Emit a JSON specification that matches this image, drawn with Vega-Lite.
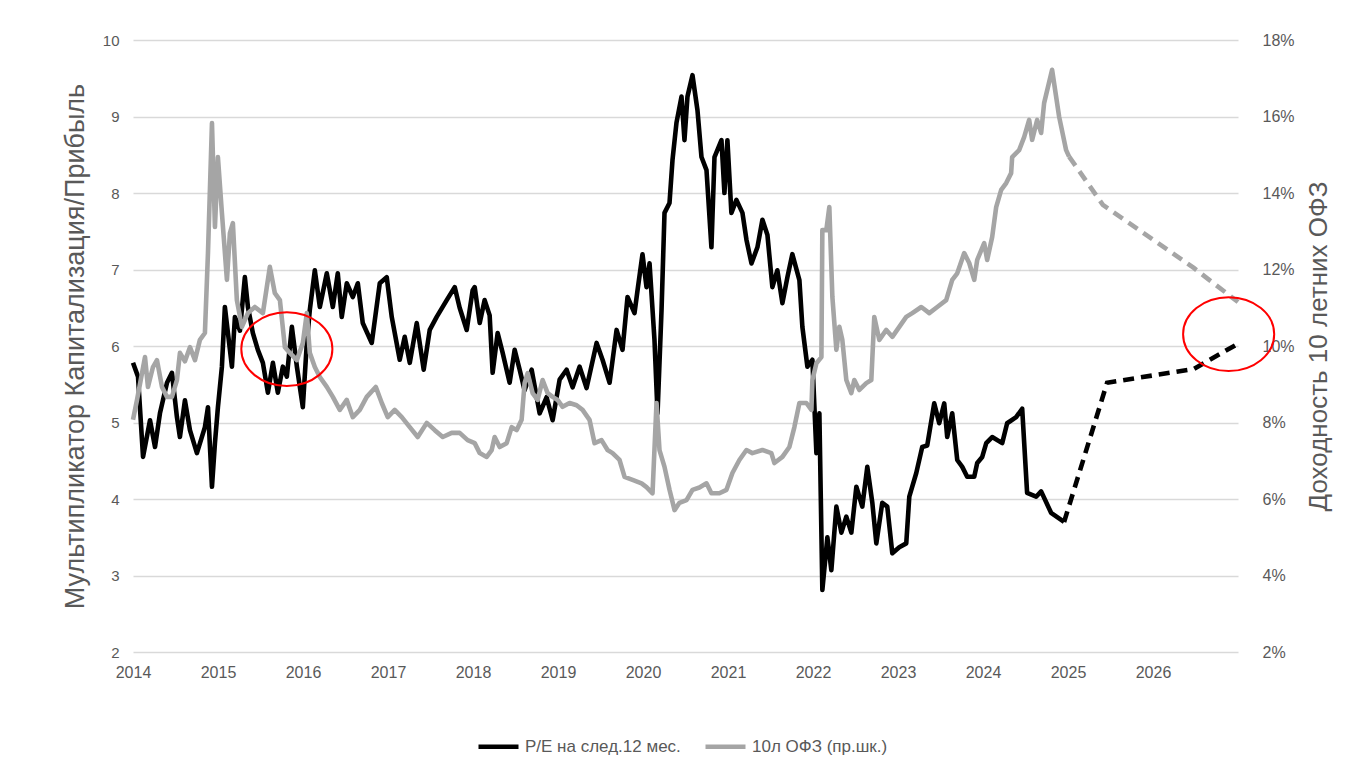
{
  "$schema": "https://vega.github.io/schema/vega-lite/v6.json",
  "width": 1105,
  "height": 612,
  "autosize": {"type": "none"},
  "padding": {"left": 133, "top": 40, "right": 115, "bottom": 123},
  "background": "#ffffff",
  "config": {
    "view": {"stroke": null},
    "font": "Liberation Sans",
    "axis": {"labelColor": "#595959", "titleColor": "#595959", "labelFont": "Liberation Sans", "titleFont": "Liberation Sans", "titleFontWeight": "normal"},
    "legend": {"labelColor": "#595959", "labelFont": "Liberation Sans"}
  },
  "datasets": {
    "peA": [
      {"t":2014.000,"v":5.78},{"t":2014.059,"v":5.60},{"t":2014.118,"v":4.55},{"t":2014.200,"v":5.03},{"t":2014.259,"v":4.68},
      {"t":2014.317,"v":5.12},{"t":2014.400,"v":5.52},{"t":2014.458,"v":5.65},{"t":2014.517,"v":5.07},{"t":2014.552,"v":4.81},
      {"t":2014.611,"v":5.29},{"t":2014.670,"v":4.90},{"t":2014.752,"v":4.60},{"t":2014.846,"v":4.94},{"t":2014.882,"v":5.20},
      {"t":2014.929,"v":4.16},{"t":2014.964,"v":4.73},{"t":2014.999,"v":5.20},{"t":2015.046,"v":5.73},{"t":2015.081,"v":6.51},
      {"t":2015.117,"v":6.17},{"t":2015.164,"v":5.73},{"t":2015.199,"v":6.38},{"t":2015.258,"v":6.20},{"t":2015.316,"v":6.90},
      {"t":2015.352,"v":6.51},{"t":2015.410,"v":6.17},{"t":2015.469,"v":5.95},{"t":2015.528,"v":5.78},{"t":2015.587,"v":5.39},
      {"t":2015.646,"v":5.78},{"t":2015.704,"v":5.39},{"t":2015.763,"v":5.73},{"t":2015.810,"v":5.60},{"t":2015.869,"v":6.25},
      {"t":2015.928,"v":5.73},{"t":2015.998,"v":5.20},{"t":2016.045,"v":6.04},{"t":2016.080,"v":6.47},{"t":2016.139,"v":6.99},
      {"t":2016.198,"v":6.51},{"t":2016.280,"v":6.95},{"t":2016.351,"v":6.51},{"t":2016.409,"v":6.95},{"t":2016.456,"v":6.38},
      {"t":2016.515,"v":6.82},{"t":2016.586,"v":6.64},{"t":2016.645,"v":6.82},{"t":2016.703,"v":6.30},{"t":2016.809,"v":6.04},
      {"t":2016.903,"v":6.82},{"t":2016.985,"v":6.90},{"t":2017.044,"v":6.38},{"t":2017.138,"v":5.82},{"t":2017.197,"v":6.12},
      {"t":2017.256,"v":5.78},{"t":2017.338,"v":6.30},{"t":2017.420,"v":5.69},{"t":2017.491,"v":6.21},{"t":2017.573,"v":6.38},
      {"t":2017.691,"v":6.60},{"t":2017.785,"v":6.77},{"t":2017.843,"v":6.50},{"t":2017.926,"v":6.21},{"t":2017.996,"v":6.73},
      {"t":2018.020,"v":6.77},{"t":2018.079,"v":6.30},{"t":2018.137,"v":6.60},{"t":2018.196,"v":6.40},{"t":2018.231,"v":5.65},
      {"t":2018.290,"v":6.17},{"t":2018.349,"v":5.91},{"t":2018.431,"v":5.52},{"t":2018.490,"v":5.95},{"t":2018.549,"v":5.69},
      {"t":2018.607,"v":5.42},{"t":2018.690,"v":5.69},{"t":2018.784,"v":5.12},{"t":2018.866,"v":5.33},{"t":2018.937,"v":5.03},
      {"t":2019.019,"v":5.56},{"t":2019.101,"v":5.69},{"t":2019.172,"v":5.46},{"t":2019.254,"v":5.73},{"t":2019.336,"v":5.45},
      {"t":2019.454,"v":6.04},{"t":2019.524,"v":5.82},{"t":2019.607,"v":5.52},{"t":2019.689,"v":6.21},{"t":2019.759,"v":5.95},
      {"t":2019.818,"v":6.64},{"t":2019.900,"v":6.43},{"t":2019.936,"v":6.73},{"t":2019.994,"v":7.20},{"t":2020.041,"v":6.77},
      {"t":2020.077,"v":7.08},{"t":2020.135,"v":6.08},{"t":2020.171,"v":5.12},{"t":2020.218,"v":6.47},{"t":2020.253,"v":7.74},
      {"t":2020.312,"v":7.87},{"t":2020.347,"v":8.43},{"t":2020.394,"v":8.92},{"t":2020.453,"v":9.26},{"t":2020.488,"v":8.69},
      {"t":2020.523,"v":9.26},{"t":2020.582,"v":9.54},{"t":2020.641,"v":9.08},{"t":2020.688,"v":8.47},{"t":2020.747,"v":8.30},
      {"t":2020.805,"v":7.29},{"t":2020.841,"v":8.47},{"t":2020.923,"v":8.69},{"t":2020.958,"v":8.00},{"t":2020.993,"v":8.69},
      {"t":2021.040,"v":7.74},{"t":2021.099,"v":7.91},{"t":2021.170,"v":7.74},{"t":2021.217,"v":7.39},{"t":2021.276,"v":7.08},
      {"t":2021.346,"v":7.29},{"t":2021.405,"v":7.65},{"t":2021.464,"v":7.45},{"t":2021.522,"v":6.77},{"t":2021.581,"v":6.99},
      {"t":2021.640,"v":6.56},{"t":2021.699,"v":6.90},{"t":2021.757,"v":7.20},{"t":2021.840,"v":6.86},{"t":2021.875,"v":6.25},
      {"t":2021.934,"v":5.73},{"t":2021.993,"v":5.82},{"t":2022.040,"v":4.60},{"t":2022.075,"v":5.12},{"t":2022.110,"v":2.81},
      {"t":2022.169,"v":3.50},{"t":2022.216,"v":3.07},{"t":2022.275,"v":3.90},{"t":2022.334,"v":3.56},{"t":2022.392,"v":3.77},
      {"t":2022.451,"v":3.56},{"t":2022.510,"v":4.16},{"t":2022.580,"v":3.90},{"t":2022.639,"v":4.42},{"t":2022.698,"v":3.95},
      {"t":2022.745,"v":3.42},{"t":2022.815,"v":3.95},{"t":2022.874,"v":3.90},{"t":2022.933,"v":3.29},{"t":2023.015,"v":3.37},
      {"t":2023.097,"v":3.42},{"t":2023.133,"v":4.03},{"t":2023.215,"v":4.34},{"t":2023.285,"v":4.68},{"t":2023.344,"v":4.70},
      {"t":2023.426,"v":5.25},{"t":2023.485,"v":4.99},{"t":2023.544,"v":5.25},{"t":2023.579,"v":4.81},{"t":2023.638,"v":5.12},
      {"t":2023.697,"v":4.51},{"t":2023.756,"v":4.42},{"t":2023.814,"v":4.29},{"t":2023.897,"v":4.29},{"t":2023.932,"v":4.47},
      {"t":2023.991,"v":4.55},{"t":2024.038,"v":4.73},{"t":2024.108,"v":4.81},{"t":2024.226,"v":4.73},{"t":2024.284,"v":4.99},
      {"t":2024.390,"v":5.07},{"t":2024.461,"v":5.18},{"t":2024.519,"v":4.08},{"t":2024.625,"v":4.03},{"t":2024.684,"v":4.10},
      {"t":2024.801,"v":3.82},{"t":2024.954,"v":3.70}
    ],
    "peF": [
      {"t":2024.954,"v":3.70},{"t":2025.46,"v":5.52},{"t":2026.48,"v":5.70},{"t":2027.0,"v":6.03}
    ],
    "ofzA": [
      {"t":2014.000,"v":8.07},{"t":2014.047,"v":8.59},{"t":2014.141,"v":9.71},{"t":2014.176,"v":8.93},{"t":2014.235,"v":9.45},
      {"t":2014.282,"v":9.63},{"t":2014.341,"v":8.93},{"t":2014.400,"v":8.67},{"t":2014.458,"v":8.67},{"t":2014.517,"v":9.11},
      {"t":2014.552,"v":9.82},{"t":2014.611,"v":9.60},{"t":2014.670,"v":9.97},{"t":2014.729,"v":9.63},{"t":2014.787,"v":10.16},
      {"t":2014.846,"v":10.34},{"t":2014.882,"v":12.43},{"t":2014.929,"v":15.83},{"t":2014.964,"v":13.11},{"t":2014.999,"v":14.94},
      {"t":2015.046,"v":13.48},{"t":2015.105,"v":11.73},{"t":2015.140,"v":12.95},{"t":2015.175,"v":13.21},{"t":2015.222,"v":11.20},
      {"t":2015.281,"v":10.50},{"t":2015.352,"v":10.86},{"t":2015.434,"v":11.02},{"t":2015.528,"v":10.86},{"t":2015.610,"v":12.07},
      {"t":2015.669,"v":11.38},{"t":2015.728,"v":11.20},{"t":2015.787,"v":9.97},{"t":2015.845,"v":9.82},{"t":2015.928,"v":9.63},
      {"t":2015.998,"v":10.08},{"t":2016.045,"v":10.86},{"t":2016.080,"v":9.82},{"t":2016.139,"v":9.45},{"t":2016.198,"v":9.19},
      {"t":2016.280,"v":8.93},{"t":2016.351,"v":8.67},{"t":2016.433,"v":8.33},{"t":2016.515,"v":8.59},{"t":2016.586,"v":8.14},
      {"t":2016.668,"v":8.33},{"t":2016.750,"v":8.67},{"t":2016.856,"v":8.93},{"t":2016.927,"v":8.51},{"t":2016.997,"v":8.14},
      {"t":2017.079,"v":8.33},{"t":2017.162,"v":8.14},{"t":2017.256,"v":7.88},{"t":2017.350,"v":7.62},{"t":2017.456,"v":7.99},
      {"t":2017.550,"v":7.80},{"t":2017.644,"v":7.62},{"t":2017.749,"v":7.73},{"t":2017.843,"v":7.73},{"t":2017.937,"v":7.54},
      {"t":2018.020,"v":7.46},{"t":2018.079,"v":7.20},{"t":2018.161,"v":7.10},{"t":2018.220,"v":7.28},{"t":2018.255,"v":7.62},
      {"t":2018.314,"v":7.36},{"t":2018.396,"v":7.46},{"t":2018.455,"v":7.88},{"t":2018.513,"v":7.80},{"t":2018.572,"v":8.07},
      {"t":2018.607,"v":9.03},{"t":2018.643,"v":9.29},{"t":2018.701,"v":8.77},{"t":2018.760,"v":8.59},{"t":2018.819,"v":9.11},
      {"t":2018.878,"v":8.77},{"t":2018.937,"v":8.67},{"t":2018.995,"v":8.59},{"t":2019.054,"v":8.41},{"t":2019.136,"v":8.51},
      {"t":2019.219,"v":8.45},{"t":2019.289,"v":8.33},{"t":2019.371,"v":8.07},{"t":2019.430,"v":7.46},{"t":2019.512,"v":7.54},
      {"t":2019.583,"v":7.28},{"t":2019.642,"v":7.20},{"t":2019.724,"v":7.02},{"t":2019.783,"v":6.58},{"t":2019.877,"v":6.50},
      {"t":2019.983,"v":6.41},{"t":2020.041,"v":6.31},{"t":2020.112,"v":6.15},{"t":2020.159,"v":8.51},{"t":2020.194,"v":7.28},
      {"t":2020.253,"v":6.84},{"t":2020.312,"v":6.24},{"t":2020.371,"v":5.71},{"t":2020.429,"v":5.90},{"t":2020.512,"v":5.97},
      {"t":2020.582,"v":6.24},{"t":2020.664,"v":6.30},{"t":2020.747,"v":6.41},{"t":2020.805,"v":6.15},{"t":2020.899,"v":6.15},
      {"t":2020.982,"v":6.24},{"t":2021.052,"v":6.68},{"t":2021.134,"v":7.02},{"t":2021.217,"v":7.28},{"t":2021.287,"v":7.20},
      {"t":2021.405,"v":7.28},{"t":2021.510,"v":7.20},{"t":2021.546,"v":6.94},{"t":2021.640,"v":7.10},{"t":2021.722,"v":7.36},
      {"t":2021.781,"v":7.88},{"t":2021.840,"v":8.51},{"t":2021.922,"v":8.51},{"t":2021.981,"v":8.33},{"t":2021.993,"v":9.11},
      {"t":2022.040,"v":9.55},{"t":2022.099,"v":9.71},{"t":2022.110,"v":13.03},{"t":2022.157,"v":13.03},{"t":2022.192,"v":13.63},
      {"t":2022.228,"v":11.28},{"t":2022.275,"v":9.90},{"t":2022.310,"v":10.50},{"t":2022.345,"v":10.16},{"t":2022.392,"v":9.11},
      {"t":2022.451,"v":8.77},{"t":2022.486,"v":9.11},{"t":2022.545,"v":8.85},{"t":2022.627,"v":9.03},{"t":2022.686,"v":9.11},
      {"t":2022.721,"v":10.76},{"t":2022.780,"v":10.16},{"t":2022.862,"v":10.42},{"t":2022.933,"v":10.24},{"t":2023.015,"v":10.50},
      {"t":2023.097,"v":10.76},{"t":2023.168,"v":10.86},{"t":2023.274,"v":11.02},{"t":2023.368,"v":10.86},{"t":2023.462,"v":11.02},
      {"t":2023.567,"v":11.20},{"t":2023.638,"v":11.73},{"t":2023.697,"v":11.90},{"t":2023.779,"v":12.43},{"t":2023.838,"v":12.17},
      {"t":2023.897,"v":11.73},{"t":2023.932,"v":12.25},{"t":2024.014,"v":12.69},{"t":2024.049,"v":12.25},{"t":2024.108,"v":12.85},
      {"t":2024.155,"v":13.63},{"t":2024.214,"v":14.08},{"t":2024.273,"v":14.26},{"t":2024.331,"v":14.52},{"t":2024.343,"v":14.94},
      {"t":2024.425,"v":15.12},{"t":2024.484,"v":15.46},{"t":2024.543,"v":15.91},{"t":2024.578,"v":15.39},{"t":2024.637,"v":15.91},
      {"t":2024.684,"v":15.57},{"t":2024.719,"v":16.35},{"t":2024.813,"v":17.22},{"t":2024.896,"v":15.99},{"t":2024.978,"v":15.12},
      {"t":2025.013,"v":14.95}
    ],
    "ofzF": [
      {"t":2025.013,"v":14.95},{"t":2025.41,"v":13.69},{"t":2026.48,"v":12.04},{"t":2027.0,"v":11.15}
    ],
    "marks": [
      {"t":2015.81,"v":9.92},{"t":2026.89,"v":10.31}
    ]
  },
  "encoding": {
    "x": {
      "field": "t", "type": "quantitative",
      "scale": {"domain": [2014, 2027], "nice": false, "zero": false},
      "axis": {"values": [2014,2015,2016,2017,2018,2019,2020,2021,2022,2023,2024,2025,2026], "format": "d", "title": null, "grid": false, "ticks": false, "domain": false, "labelFontSize": 16, "labelPadding": 12, "labelFlush": false}
    }
  },
  "layer": [
    {
      "encoding": {
        "y": {
          "field": "v", "type": "quantitative",
          "scale": {"domain": [2, 10], "nice": false, "zero": false},
          "axis": {"values": [2,3,4,5,6,7,8,9,10], "title": "Мультипликатор Капитализация/Прибыль", "titleFontSize": 27, "titleX": -58, "titleY": 306, "titleAngle": 270, "titleAlign": "center", "titleBaseline": "middle", "grid": true, "gridColor": "#d9d9d9", "gridWidth": 1.3, "ticks": false, "domain": false, "labelFontSize": 15, "labelPadding": 14}
        },
        "color": {
          "datum": "P/E на след.12 мес.", "type": "nominal",
          "scale": {"domain": ["P/E на след.12 мес.", "10л ОФЗ (пр.шк.)"], "range": ["#000000", "#a5a5a5"]},
          "legend": {"title": null, "orient": "none", "legendX": 343, "legendY": 684, "direction": "horizontal", "symbolType": "stroke", "symbolSize": 1600, "symbolStrokeWidth": 4.5, "labelFontSize": 17, "columnPadding": 15, "labelOffset": 4}
        }
      },
      "layer": [
        {"data": {"name": "peA"}, "mark": {"type": "line", "strokeWidth": 4.6, "strokeJoin": "round"}},
        {"data": {"name": "peF"}, "mark": {"type": "line", "strokeWidth": 4.6, "strokeDash": [11, 7]}}
      ]
    },
    {
      "encoding": {
        "y": {
          "field": "v", "type": "quantitative",
          "scale": {"domain": [2, 18], "nice": false, "zero": false},
          "axis": {"orient": "right", "values": [2,4,6,8,10,12,14,16,18], "labelExpr": "datum.value + '%'", "title": "Доходность 10 летних ОФЗ", "titleAngle": 270, "titleFontSize": 26, "titleX": 80, "titleY": 306, "titleAlign": "center", "titleBaseline": "middle", "grid": false, "ticks": false, "domain": false, "labelFontSize": 16, "labelPadding": 24}
        }
      },
      "layer": [
        {"data": {"name": "ofzA"}, "mark": {"type": "line", "strokeWidth": 4.6, "strokeJoin": "round"}, "encoding": {"color": {"datum": "10л ОФЗ (пр.шк.)", "type": "nominal"}}},
        {"data": {"name": "ofzF"}, "mark": {"type": "line", "strokeWidth": 4.6, "strokeDash": [11, 7]}, "encoding": {"color": {"datum": "10л ОФЗ (пр.шк.)", "type": "nominal"}}},
        {"data": {"name": "marks"}, "mark": {"type": "point", "shape": "M-1,0A1,0.81,0,1,1,1,0A1,0.81,0,1,1,-1,0Z", "size": 8300, "filled": false, "stroke": "#ff0000", "strokeWidth": 2, "opacity": 1, "clip": false}}
      ]
    }
  ],
  "resolve": {"scale": {"y": "independent"}}
}
